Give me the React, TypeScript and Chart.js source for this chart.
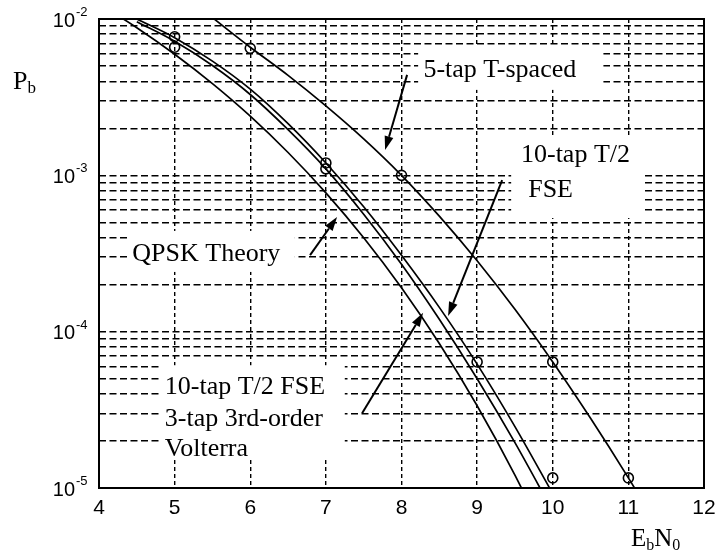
import { useEffect, useRef } from "react";
import { Chart, registerables } from "chart.js";

Chart.register(...registerables);

// Bit error probability versus Eb/N0 (dB)
const THEORY_EBN0 = [4, 4.5, 5, 5.5, 6, 6.5, 7, 7.5, 8, 8.5, 9, 9.5, 10];
const THEORY_PB = [1.25e-2, 8.8e-3, 5.95e-3, 3.86e-3, 2.39e-3, 1.4e-3, 7.73e-4, 3.99e-4, 1.91e-4, 8.4e-5, 3.36e-5, 1.21e-5, 3.87e-6];

const FSE_EBN0 = [4.5, 5, 5.5, 6, 6.5, 7, 7.5, 8, 8.5, 9, 9.5, 10];
const FSE_PB = [1.0e-2, 7.6e-3, 5.38e-3, 3.56e-3, 2.14e-3, 1.2e-3, 6.3e-4, 3.08e-4, 1.43e-4, 6.2e-5, 2.47e-5, 9.2e-6];

const VOLTERRA_EBN0 = [4.5, 5, 5.5, 6, 6.5, 7, 7.5, 8, 8.5, 9, 9.5, 10];
const VOLTERRA_PB = [9.6e-3, 7.2e-3, 5.04e-3, 3.29e-3, 1.96e-3, 1.1e-3, 5.64e-4, 2.7e-4, 1.2e-4, 5.0e-5, 1.95e-5, 7.1e-6];

const TSPACED_EBN0 = [5.5, 6, 6.5, 7, 7.5, 8, 8.5, 9, 9.5, 10, 10.5, 11, 11.5];
const TSPACED_PB = [1.02e-2, 6.6e-3, 4.36e-3, 2.78e-3, 1.71e-3, 1.0e-3, 5.48e-4, 2.84e-4, 1.39e-4, 6.4e-5, 2.79e-5, 1.16e-5, 4.6e-6];

// Simulated points (circle markers)
const TSPACED_SIM_EBN0 = [6, 8, 10, 11];
const TSPACED_SIM_PB = [6.5e-3, 1.0e-3, 6.4e-5, 1.16e-5];
const FSE_SIM_EBN0 = [5, 7, 9, 10];
const FSE_SIM_PB = [7.7e-3, 1.2e-3, 6.4e-5, 1.16e-5];
const VOLTERRA_SIM_EBN0 = [5, 7];
const VOLTERRA_SIM_PB = [6.6e-3, 1.1e-3];

// Axes
const X_TICKS = [4, 5, 6, 7, 8, 9, 10, 11, 12];
const Y_DECADES = [-5, -4, -3];
const Y_MANTISSAS = [1, 2, 3, 4, 5, 6, 7, 8, 9];
const Y_LABEL_EXPONENTS = [-2, -3, -4, -5];

const SERIF = '"Liberation Serif", "Times New Roman", serif';
const SANS = '"Liberation Sans", Arial, sans-serif';

type Note = {
  lines: string[];
  at: [number, number][];
  box: [number, number, number, number];
  arrow: [number, number, number, number];
};

// Callouts: text anchors, the white backing panel and the arrow, in data units
const NOTES: Note[] = [
  {
    lines: ["5-tap T-spaced"],
    at: [[8.29, 4.72e-3]],
    box: [8.22, 10.67, 6.82e-3, 3.52e-3],
    arrow: [8.074, 4.39e-3, 7.783, 1.45e-3],
  },
  {
    lines: ["10-tap T/2", "FSE"],
    at: [[9.58, 1.35e-3], [9.675, 8.05e-4]],
    box: [9.45, 11.22, 1.81e-3, 5.33e-4],
    arrow: [9.331, 9.33e-4, 8.616, 1.26e-4],
  },
  {
    lines: ["QPSK Theory"],
    at: [[4.44, 3.13e-4]],
    box: [4.38, 6.59, 4.41e-4, 2.41e-4],
    arrow: [6.791, 3.09e-4, 7.148, 5.41e-4],
  },
  {
    lines: ["10-tap T/2 FSE", "3-tap 3rd-order", "Volterra"],
    at: [[4.87, 4.43e-5], [4.87, 2.76e-5], [4.87, 1.77e-5]],
    box: [4.81, 7.25, 6.1e-5, 1.51e-5],
    arrow: [7.479, 3.01e-5, 8.286, 1.32e-4],
  },
];

const pts = (xs: number[], ys: number[]) => xs.map((x, i) => ({ x, y: ys[i] }));

function drawArrow(ctx: CanvasRenderingContext2D, x1: number, y1: number, x2: number, y2: number) {
  const ang = Math.atan2(y2 - y1, x2 - x1);
  const len = 14;
  const half = 4.5;
  const bx = x2 - len * Math.cos(ang);
  const by = y2 - len * Math.sin(ang);
  ctx.beginPath();
  ctx.moveTo(x1, y1);
  ctx.lineTo(bx, by);
  ctx.lineWidth = 2;
  ctx.stroke();
  ctx.beginPath();
  ctx.moveTo(x2, y2);
  ctx.lineTo(bx + half * Math.sin(ang), by - half * Math.cos(ang));
  ctx.lineTo(bx - half * Math.sin(ang), by + half * Math.cos(ang));
  ctx.closePath();
  ctx.fill();
}

const annotate = {
  id: "annotate",
  beforeDatasetsDraw(chart: any) {
    const { ctx, scales } = chart;
    const xs = scales.x;
    const ys = scales.y;
    ctx.save();
    ctx.fillStyle = "#ffffff";
    for (const n of NOTES) {
      const [x0, x1, y0, y1] = n.box;
      const px0 = xs.getPixelForValue(x0);
      const px1 = xs.getPixelForValue(x1);
      const py0 = ys.getPixelForValue(y0);
      const py1 = ys.getPixelForValue(y1);
      ctx.fillRect(px0, py0, px1 - px0, py1 - py0);
    }
    ctx.restore();
  },
  afterDatasetsDraw(chart: any) {
    const { ctx, scales } = chart;
    const xs = scales.x;
    const ys = scales.y;
    ctx.save();
    ctx.fillStyle = "#000";
    ctx.strokeStyle = "#000";
    ctx.font = `26px ${SERIF}`;
    ctx.textAlign = "left";
    ctx.textBaseline = "middle";
    for (const n of NOTES) {
      n.lines.forEach((t, i) => {
        const [x, y] = n.at[i];
        ctx.fillText(t, xs.getPixelForValue(x), ys.getPixelForValue(y));
      });
      const [ax1, ay1, ax2, ay2] = n.arrow;
      drawArrow(
        ctx,
        xs.getPixelForValue(ax1),
        ys.getPixelForValue(ay1),
        xs.getPixelForValue(ax2),
        ys.getPixelForValue(ay2)
      );
    }
    ctx.restore();
  },
  afterDraw(chart: any) {
    const { ctx, chartArea: a, scales } = chart;
    const xs = scales.x;
    const ys = scales.y;
    ctx.save();
    // plot frame
    ctx.strokeStyle = "#000";
    ctx.lineWidth = 2;
    ctx.strokeRect(a.left, a.top, a.right - a.left, a.bottom - a.top);

    ctx.fillStyle = "#000";
    // y tick labels 10^n
    for (const e of Y_LABEL_EXPONENTS) {
      const py = ys.getPixelForValue(Math.pow(10, e));
      ctx.font = `20px ${SANS}`;
      ctx.textAlign = "right";
      ctx.textBaseline = "middle";
      ctx.fillText("10", a.left - 24, py + 2);
      ctx.font = `13px ${SANS}`;
      ctx.textAlign = "left";
      ctx.textBaseline = "alphabetic";
      ctx.fillText(String(e), a.left - 23, py - 3);
    }
    // x tick labels
    ctx.font = `21px ${SANS}`;
    ctx.textAlign = "center";
    ctx.textBaseline = "middle";
    for (const v of X_TICKS) {
      ctx.fillText(String(v), xs.getPixelForValue(v), a.bottom + 20);
    }
    // axis titles
    ctx.textAlign = "left";
    ctx.textBaseline = "alphabetic";
    ctx.font = `26px ${SERIF}`;
    const pX = a.left - 86;
    const pY = a.top + 70;
    ctx.fillText("P", pX, pY);
    const pW = ctx.measureText("P").width;
    ctx.font = `17px ${SERIF}`;
    ctx.fillText("b", pX + pW, pY + 4);

    let ex = a.right - 73;
    const ey = a.bottom + 58;
    ctx.font = `25px ${SERIF}`;
    ctx.fillText("E", ex, ey);
    ex += ctx.measureText("E").width;
    ctx.font = `16px ${SERIF}`;
    ctx.fillText("b", ex, ey + 4);
    ex += ctx.measureText("b").width;
    ctx.font = `25px ${SERIF}`;
    ctx.fillText("N", ex, ey);
    ex += ctx.measureText("N").width;
    ctx.font = `16px ${SERIF}`;
    ctx.fillText("0", ex, ey + 4);
    ctx.restore();
  },
};

export default function App() {
  const ref = useRef<HTMLCanvasElement | null>(null);

  useEffect(() => {
    document.body.style.margin = "0";
    const canvas = ref.current;
    if (!canvas) return;

    const curve = (xs: number[], ys: number[]) => ({
      type: "line" as const,
      data: pts(xs, ys),
      borderColor: "#000",
      borderWidth: 1.7,
      pointRadius: 0,
      fill: false,
      cubicInterpolationMode: "monotone" as const,
    });
    const marks = (xs: number[], ys: number[]) => ({
      type: "scatter" as const,
      data: pts(xs, ys),
      showLine: false,
      pointStyle: "circle" as const,
      pointRadius: 5,
      pointBorderWidth: 1.6,
      pointBorderColor: "#000",
      pointBackgroundColor: "rgba(0,0,0,0)",
    });

    const yGrid: number[] = [];
    for (const d of Y_DECADES) for (const m of Y_MANTISSAS) yGrid.push(m * Math.pow(10, d));
    yGrid.push(Math.pow(10, Y_LABEL_EXPONENTS[0]));

    const chart = new Chart(canvas, {
      type: "line",
      data: {
        datasets: [
          curve(THEORY_EBN0, THEORY_PB),
          curve(VOLTERRA_EBN0, VOLTERRA_PB),
          curve(FSE_EBN0, FSE_PB),
          curve(TSPACED_EBN0, TSPACED_PB),
          marks(TSPACED_SIM_EBN0, TSPACED_SIM_PB),
          marks(FSE_SIM_EBN0, FSE_SIM_PB),
          marks(VOLTERRA_SIM_EBN0, VOLTERRA_SIM_PB),
        ] as any,
      },
      options: {
        responsive: false,
        animation: false,
        devicePixelRatio: 1,
        layout: { padding: { left: 99, right: 14, top: 19, bottom: 69 } },
        plugins: { legend: { display: false }, tooltip: { enabled: false } },
        scales: {
          x: {
            type: "linear",
            min: X_TICKS[0],
            max: X_TICKS[X_TICKS.length - 1],
            ticks: { display: false, stepSize: 1 },
            grid: { color: "#000", lineWidth: 1.4, drawTicks: false },
            border: { display: false, dash: [4, 3] },
          },
          y: {
            type: "logarithmic",
            min: 1e-5,
            max: 1e-2,
            ticks: { display: false },
            afterBuildTicks: (axis: any) => {
              axis.ticks = yGrid.map((v) => ({ value: v }));
            },
            grid: { color: "#000", lineWidth: 1.4, drawTicks: false },
            border: { display: false, dash: [7, 3.5] },
          },
        },
      } as any,
      plugins: [annotate],
    });

    return () => chart.destroy();
  }, []);

  return (
    <div style={{ width: 718, height: 557, background: "#fff" }}>
      <canvas ref={ref} width={718} height={557} />
    </div>
  );
}
